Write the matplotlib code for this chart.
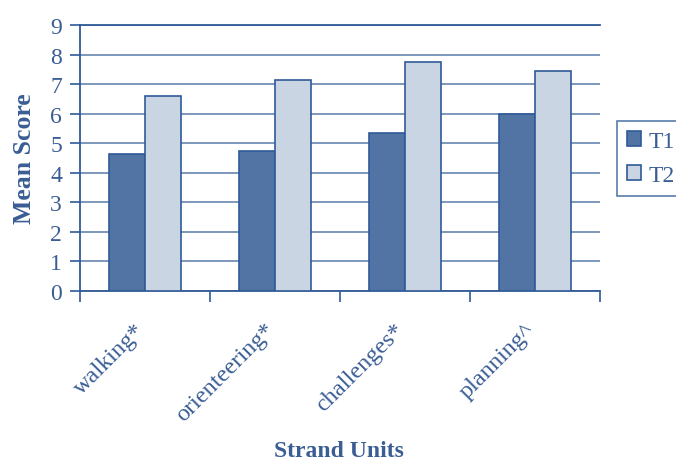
import matplotlib
matplotlib.use("Agg")
import matplotlib.pyplot as plt
import matplotlib.transforms as mtransforms
import numpy as np

categories = ["walking*", "orienteering*", "challenges*", "planning^"]
t1 = [4.63, 4.72, 5.33, 5.98]
t2 = [6.59, 7.15, 7.76, 7.46]
yticks = [0, 1, 2, 3, 4, 5, 6, 7, 8, 9]

txt = "#3A5D94"
grid = "#7390B8"
c1 = "#5274A5"
c2 = "#C9D5E3"
edge = "#2F5A97"

plt.rcParams['font.family'] = ['Liberation Serif', 'DejaVu Serif']

fig = plt.figure(figsize=(6.76, 4.64), dpi=100)
ax = fig.add_axes([80/676, 1-292/464, 520/676, 266/464])

x = np.arange(len(categories))
w = 0.28
ax.bar(x - w/2, t1, w, color=c1, edgecolor=edge, linewidth=1.2, label="T1", zorder=3)
ax.bar(x + w/2, t2, w, color=c2, edgecolor=edge, linewidth=1.2, label="T2", zorder=3)

ax.set_xlim(-0.5, len(categories) - 0.5)
ax.set_ylim(0, 9)
ax.set_yticks(yticks)
ax.set_yticklabels([str(v) for v in yticks], color=txt, fontsize=17)
ax.yaxis.grid(True, color=grid, linewidth=1.3, zorder=0)
ax.set_axisbelow(True)

ax.set_xticks(np.arange(len(categories) + 1) - 0.5, minor=False)
ax.set_xticklabels([])
ax.set_xticks(x, minor=True)
ax.set_xticklabels(categories, minor=True, rotation=45, ha='right', rotation_mode='anchor',
                   color=txt, fontsize=17.5)
ax.tick_params(axis='x', which='minor', length=0, pad=20)
ax.tick_params(axis='x', which='major', length=8, color=edge, width=1.2)
ax.tick_params(axis='y', length=7, color=edge, width=1.2, pad=6)
offset = mtransforms.ScaledTranslation(-11/100, 0, fig.dpi_scale_trans)
for lab in ax.get_xticklabels(minor=True):
    lab.set_transform(lab.get_transform() + offset)

for s in ['right']:
    ax.spines[s].set_visible(False)
for s in ['left', 'bottom', 'top']:
    ax.spines[s].set_color(edge)
    ax.spines[s].set_linewidth(1.3)

ax.set_ylabel("Mean Score", color=txt, fontsize=18.5, fontweight='bold', labelpad=10)
fig.text(339/676, 1.5/464, "Strand Units", color=txt, fontsize=17, fontweight='bold',
         ha='center', va='bottom')

leg = ax.legend(loc='upper left', bbox_to_anchor=(617/676, 1-122/464),
                bbox_transform=fig.transFigure, frameon=True, fancybox=False,
                fontsize=17, handlelength=0.6, handleheight=0.6, handletextpad=0.3,
                labelspacing=0.55, borderpad=0.42, borderaxespad=0, labelcolor=txt)
leg.get_frame().set_edgecolor(edge)
leg.get_frame().set_linewidth(1.2)

fig.savefig("out.png", dpi=100)
